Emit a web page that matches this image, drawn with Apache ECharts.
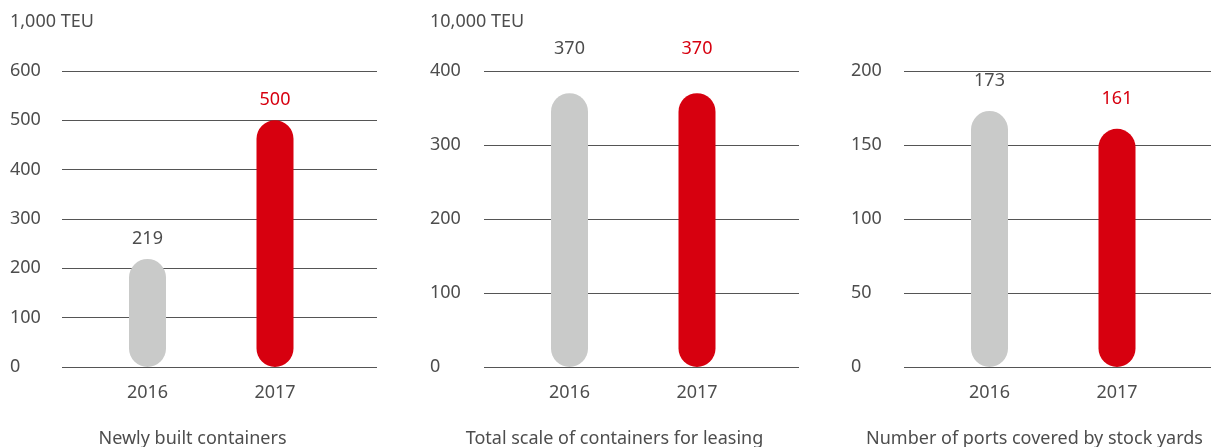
<!DOCTYPE html>
<html>
<head>
<meta charset="UTF-8">
<title>Container business</title>
<style>
  html, body { margin: 0; padding: 0; background: #fff; }
  #main { width: 1211px; height: 447px; }
</style>
</head>
<body>
<div id="main"></div>
<script src="https://cdn.jsdelivr.net/npm/echarts@6/dist/echarts.min.js"></script>
<script>
// data
var categories = ['2016', '2017'];
var newlyBuilt = [219, 500];
var leasingScale = [370, 370];
var portsCovered = [173, 161];

var panelValues = [newlyBuilt, leasingScale, portsCovered];
var panelTitles = ['Newly built containers', 'Total scale of containers for leasing', 'Number of ports covered by stock yards'];
var unitLabels = ['1,000 TEU', '10,000 TEU', ''];
var yMax = [600, 400, 200];
var yStep = [100, 100, 50];

// layout / style
var panelLeft = [62, 484, 904];
var panelWidth = 315;
var labelMargin = [52, 54, 53];
var labelDistance = [11.5, 35.5, 21];
var barColors = ['#c9cac9', '#d7000f'];
var valueColors = ['#4d4d4d', '#d7000f'];
var textColor = '#4d4d4d';
var font = 'Noto Sans';

var chart = echarts.init(document.getElementById('main'));

var grids = [], xAxes = [], yAxes = [], series = [], titles = [];

for (var i = 0; i < 3; i++) {
  var x0 = panelLeft[i];
  // background grid: y labels + gridlines across full width
  grids.push({ left: x0, width: panelWidth, top: 71, bottom: 80 });
  // bar grid: narrower, holds the categories
  grids.push({ left: x0 + 21.75, width: 255, top: 71, bottom: 80 });

  xAxes.push({ gridIndex: 2 * i, type: 'value', show: false, min: 0, max: 1 });
  xAxes.push({
    gridIndex: 2 * i + 1, type: 'category', data: categories,
    axisLine: { show: false }, axisTick: { show: false },
    axisLabel: { color: textColor, fontFamily: font, fontSize: 18, margin: 17 }
  });

  yAxes.push({
    gridIndex: 2 * i, type: 'value', min: 0, max: yMax[i], interval: yStep[i],
    axisLine: { show: false }, axisTick: { show: false },
    axisLabel: { color: textColor, fontFamily: font, fontSize: 18, align: 'left', margin: labelMargin[i] },
    splitLine: { lineStyle: { color: '#555', width: 1 } }
  });
  yAxes.push({
    gridIndex: 2 * i + 1, type: 'value', min: 0, max: yMax[i], interval: yStep[i],
    show: false, splitLine: { show: false }
  });

  series.push({
    type: 'bar',
    xAxisIndex: 2 * i + 1,
    yAxisIndex: 2 * i + 1,
    barWidth: 37,
    data: panelValues[i].map(function (v, k) {
      return {
        value: v,
        itemStyle: { color: barColors[k], borderRadius: 18.5 },
        label: { color: valueColors[k] }
      };
    }),
    label: {
      show: true, position: 'top', distance: labelDistance[i],
      fontFamily: font, fontSize: 18
    },
    silent: true
  });

  titles.push({
    text: panelTitles[i], left: x0 + 130.5, top: 430, padding: 0, textAlign: 'center',
    textStyle: { color: textColor, fontFamily: font, fontSize: 18, fontWeight: 'normal' }
  });
  if (unitLabels[i]) {
    titles.push({
      text: unitLabels[i], left: x0 - labelMargin[i], top: 13, padding: 0,
      textStyle: { color: textColor, fontFamily: font, fontSize: 18, fontWeight: 'normal' }
    });
  }
}

chart.setOption({
  animation: false,
  title: titles,
  grid: grids,
  xAxis: xAxes,
  yAxis: yAxes,
  series: series
});
</script>
</body>
</html>
